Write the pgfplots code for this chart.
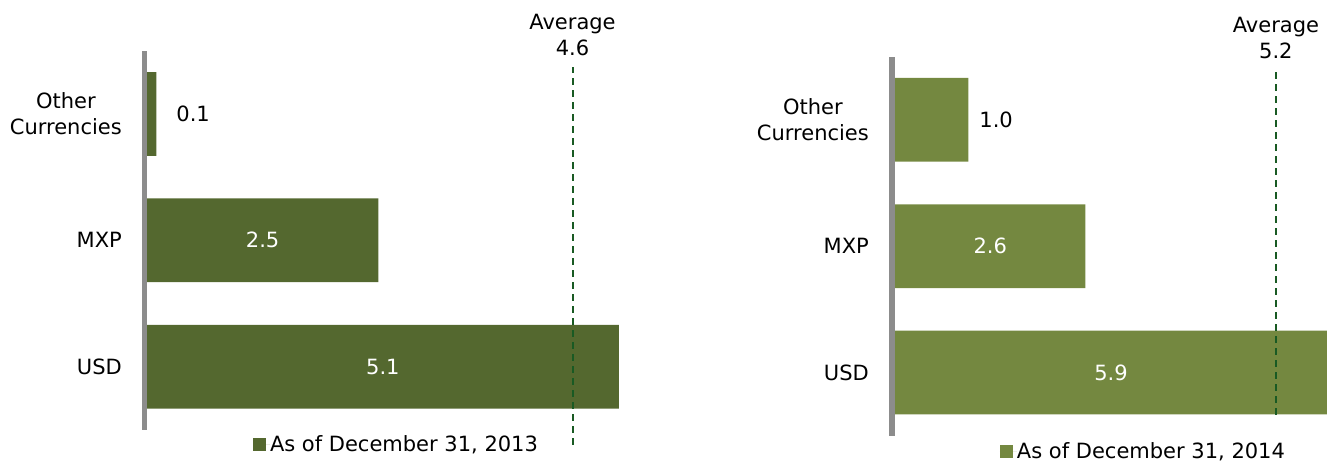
\documentclass[border=0pt]{standalone}
\usepackage{fontspec}
\setmainfont{DejaVu Sans}
\usepackage{pgfplots}
\usepackage{pgfplotstable}
\pgfplotsset{compat=1.18}
\definecolor{barA}{RGB}{84,104,47}
\definecolor{barB}{RGB}{116,136,64}
\definecolor{axgray}{RGB}{140,140,140}
\definecolor{avggreen}{RGB}{25,90,35}

\pgfplotstableread{
y v
0 5.1
1 2.5
2 0.1
}\dataA
\pgfplotstableread{
y v
0 5.9
1 2.6
2 1.0
}\dataB

\pgfkeys{/pgf/number format/assume math mode=true}
\pgfplotsset{
  mychart/.style={
    scale only axis, height=379bp, ymin=-0.5, ymax=2.5, xmin=0,
    axis lines*=left, axis line style={draw=none},
    xtick=\empty, ytick={0,1,2},
    yticklabels={USD,MXP,{Other\\Currencies}},
    major tick length=0pt, tick style={draw=none},
    clip=false,
    legend cell align=left,
    legend image code/.code={\fill[##1] (0bp,-6.5bp) rectangle (13bp,6.5bp); \path (0bp,0bp) -- (17bp,0bp);},
  },
  valnum/.style={only marks, mark=text, text mark={}, point meta=explicit,
    nodes near coords={\pgfmathprintnumber[fixed,fixed zerofill,precision=1]{\pgfplotspointmeta}}},
}

\begin{document}
\fontsize{21bp}{26bp}\selectfont
\begin{tikzpicture}
\path[use as bounding box] (0,0) rectangle (1327bp,463bp);

% ---------- left chart ----------
\begin{axis}[mychart,
  at={(147bp,33.2bp)}, anchor=south west,
  width=481bp, xmax=5.2,
  yticklabel style={align=center, anchor=east, xshift=-25bp, inner sep=0pt},
  legend style={draw=none, fill=none, at={(0.2204,-0.040)}, anchor=west,
    inner sep=0pt, outer sep=0pt, nodes={inner sep=0pt}, column sep=0pt, row sep=0pt},
]
\draw[axgray, line width=5bp] (axis cs:-0.027,-0.5) -- (axis cs:-0.027,2.5);
\addplot[xbar, bar shift=0pt, bar width=0.663, fill=barA, draw=none]
  table[x=v, y=y] {\dataA};
\addlegendentry{As of December 31, 2013}
\addplot[forget plot, valnum, skip coords between index={2}{3},
  every node near coord/.style={anchor=center, text=white, inner sep=0pt}]
  table[x expr=\thisrow{v}/2, y=y, meta=v] {\dataA};
\addplot[forget plot, valnum, skip coords between index={0}{2},
  every node near coord/.style={anchor=west, xshift=20bp, text=black, inner sep=0pt}]
  table[x=v, y=y, meta=v] {\dataA};
\addplot[forget plot, avggreen, line width=2bp, dash pattern=on 7bp off 5bp]
  coordinates {(4.6,-0.62) (4.6,2.372)}
  node[pos=1, anchor=south, yshift=10bp, align=center, text=black, inner sep=0pt] {Average\\4.6};
\end{axis}

% ---------- right chart ----------
\begin{axis}[mychart,
  at={(895bp,27.3bp)}, anchor=south west,
  width=438bp, xmax=5.98,
  yticklabel style={align=center, anchor=east, xshift=-26bp, inner sep=0pt},
  legend style={draw=none, fill=none, at={(0.2397,-0.043)}, anchor=west,
    inner sep=0pt, outer sep=0pt, nodes={inner sep=0pt}, column sep=0pt, row sep=0pt},
]
\draw[axgray, line width=5.5bp] (axis cs:-0.041,-0.5) -- (axis cs:-0.041,2.5);
\addplot[xbar, bar shift=0pt, bar width=0.663, fill=barB, draw=none]
  table[x=v, y=y] {\dataB};
\addlegendentry{As of December 31, 2014}
\addplot[forget plot, valnum, skip coords between index={2}{3},
  every node near coord/.style={anchor=center, text=white, inner sep=0pt}]
  table[x expr=\thisrow{v}/2, y=y, meta=v] {\dataB};
\addplot[forget plot, valnum, skip coords between index={0}{2},
  every node near coord/.style={anchor=west, xshift=11bp, text=black, inner sep=0pt}]
  table[x=v, y=y, meta=v] {\dataB};
\addplot[forget plot, avggreen, line width=2bp, dash pattern=on 7bp off 5bp]
  coordinates {(5.2,-0.336) (5.2,2.388)}
  node[pos=1, anchor=south, yshift=11bp, align=center, text=black, inner sep=0pt] {Average\\5.2};
\end{axis}
\end{tikzpicture}
\end{document}
